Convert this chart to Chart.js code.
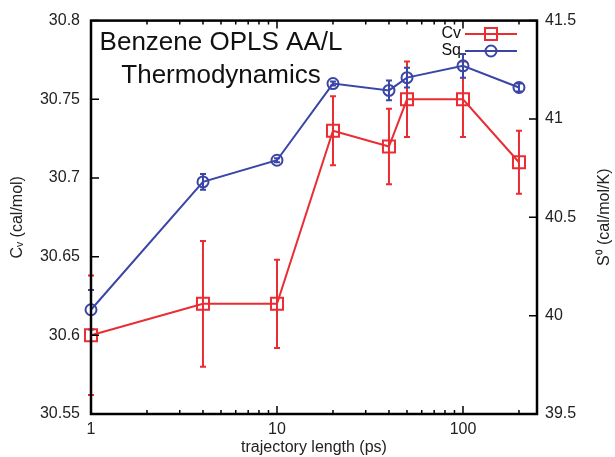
<!DOCTYPE html>
<html lang="en">
<head>
<meta charset="UTF-8">
<title>Benzene OPLS AA/L Thermodynamics</title>
<script src="https://cdn.jsdelivr.net/npm/chart.js"></script>
<style>
    body {
        margin: 0;
        background: #fff;
    }
    canvas {
        display: block;
    }
</style>
</head>
<body>
<canvas id="chart" width="615" height="457"></canvas>
<script>
// trajectory length (ps) and the two measured series
const lengths = [1, 4, 10, 20, 40, 50, 100, 200];
const cvValues = [30.6, 30.62, 30.62, 30.73, 30.72, 30.75, 30.75, 30.71];
const cvErrors = [0.038, 0.04, 0.028, 0.022, 0.024, 0.024, 0.024, 0.02];
const sqValues = [40.03, 40.68, 40.79, 41.18, 41.145, 41.21, 41.27, 41.16];
const sqErrors = [0.1, 0.04, 0.01, 0.01, 0.05, 0.05, 0.06, 0.02];

// axis ticks
const xTicks = [1, 10, 100];
const xMinorTicks = [2, 3, 4, 5, 6, 7, 8, 9, 20, 30, 40, 50, 60, 70, 80, 90, 200];
const cvTicks = [30.55, 30.6, 30.65, 30.7, 30.75, 30.8];
const sqTicks = [39.5, 40, 40.5, 41, 41.5];

const RED = '#ea2d33';
const BLUE = '#3a46a6';
const FONT = '"Liberation Sans", Arial, sans-serif';

// vertical error bars with small caps, drawn under the markers
const errorBars = {
    id: 'errorBars',
    beforeDatasetsDraw(chart) {
        const ctx = chart.ctx;
        const xs = chart.scales.x;
        chart.data.datasets.forEach(ds => {
            const ys = chart.scales[ds.yAxisID];
            ctx.save();
            ctx.strokeStyle = ds.borderColor;
            ctx.lineWidth = 2;
            ds.data.forEach((p, i) => {
                const x = xs.getPixelForValue(p.x);
                const top = ys.getPixelForValue(p.y + ds.errors[i]);
                const bot = ys.getPixelForValue(p.y - ds.errors[i]);
                ctx.beginPath();
                ctx.moveTo(x, top); ctx.lineTo(x, bot);
                ctx.moveTo(x - 3, top); ctx.lineTo(x + 3, top);
                ctx.moveTo(x - 3, bot); ctx.lineTo(x + 3, bot);
                ctx.stroke();
            });
            ctx.restore();
        });
    }
};

// gnuplot style frame, inward ticks, title, key and right axis label
const frame = {
    id: 'frame',
    afterDraw(chart) {
        const ctx = chart.ctx;
        const a = chart.chartArea;
        const xs = chart.scales.x, y1 = chart.scales.y, y2 = chart.scales.y2;
        ctx.save();
        ctx.strokeStyle = '#000';
        ctx.lineWidth = 1.5;
        ctx.beginPath();
        xTicks.forEach(v => {
            const x = xs.getPixelForValue(v);
            ctx.moveTo(x, a.bottom); ctx.lineTo(x, a.bottom - 8);
            ctx.moveTo(x, a.top); ctx.lineTo(x, a.top + 8);
        });
        xMinorTicks.forEach(v => {
            const x = xs.getPixelForValue(v);
            ctx.moveTo(x, a.bottom); ctx.lineTo(x, a.bottom - 4);
            ctx.moveTo(x, a.top); ctx.lineTo(x, a.top + 4);
        });
        cvTicks.forEach(v => {
            const y = y1.getPixelForValue(v);
            ctx.moveTo(a.left, y); ctx.lineTo(a.left + 8, y);
        });
        sqTicks.forEach(v => {
            const y = y2.getPixelForValue(v);
            ctx.moveTo(a.right, y); ctx.lineTo(a.right - 8, y);
        });
        ctx.stroke();

        ctx.lineWidth = 2.5;
        ctx.strokeRect(a.left, a.top, a.right - a.left, a.bottom - a.top);

        // title
        ctx.fillStyle = '#111';
        ctx.font = '26px ' + FONT;
        ctx.textAlign = 'center';
        ctx.textBaseline = 'alphabetic';
        ctx.fillText('Benzene OPLS AA/L', 221, 50);
        ctx.fillText('Thermodynamics', 221, 83);

        // right axis label, reading bottom to top
        ctx.save();
        ctx.translate(605, (a.top + a.bottom) / 2);
        ctx.rotate(-Math.PI / 2);
        ctx.font = '16px ' + FONT;
        ctx.fillStyle = '#222';
        ctx.textBaseline = 'middle';
        ctx.fillText('S⁰ (cal/mol/K)', 0, 0);
        ctx.restore();

        // key
        ctx.font = '16px ' + FONT;
        ctx.textAlign = 'right';
        ctx.textBaseline = 'middle';
        const keys = [
            { label: 'Cv', color: RED, y: 34, style: 'rect' },
            { label: 'Sq', color: BLUE, y: 51, style: 'circle' }
        ];
        keys.forEach(k => {
            ctx.fillStyle = '#111';
            ctx.fillText(k.label, 461, k.y);
            ctx.strokeStyle = k.color;
            ctx.lineWidth = 2;
            ctx.beginPath();
            ctx.moveTo(465, k.y); ctx.lineTo(517, k.y);
            ctx.stroke();
            ctx.beginPath();
            if (k.style === 'rect') {
                ctx.rect(485, k.y - 6, 12, 12);
            } else {
                ctx.arc(491, k.y, 5.5, 0, Math.PI * 2);
            }
            ctx.stroke();
        });
        ctx.restore();
    }
};

const tickFont = { family: FONT, size: 16 };
const noGrid = { display: false, drawTicks: false };

new Chart(document.getElementById('chart'), {
    type: 'line',
    data: {
        datasets: [
            {
                label: 'Cv',
                data: lengths.map((x, i) => ({ x: x, y: cvValues[i] })),
                errors: cvErrors,
                yAxisID: 'y',
                borderColor: RED,
                borderWidth: 2,
                pointStyle: 'rect',
                pointRadius: 8.5,
                pointBorderWidth: 2,
                pointBorderColor: RED,
                pointBackgroundColor: 'rgba(0,0,0,0)',
                clip: false
            },
            {
                label: 'Sq',
                data: lengths.map((x, i) => ({ x: x, y: sqValues[i] })),
                errors: sqErrors,
                yAxisID: 'y2',
                borderColor: BLUE,
                borderWidth: 2,
                pointStyle: 'circle',
                pointRadius: 5.5,
                pointBorderWidth: 2,
                pointBorderColor: BLUE,
                pointBackgroundColor: 'rgba(0,0,0,0)',
                clip: false
            }
        ]
    },
    options: {
        responsive: false,
        animation: false,
        devicePixelRatio: 1,
        layout: { padding: { top: 20, left: 0, right: 0, bottom: 0 } },
        plugins: {
            legend: { display: false },
            tooltip: { enabled: false }
        },
        scales: {
            x: {
                type: 'logarithmic',
                position: 'bottom',
                min: 1,
                max: 250,
                grid: noGrid,
                border: { display: false },
                afterBuildTicks: s => { s.ticks = xTicks.map(v => ({ value: v })); },
                afterFit: s => { s.height = 43; },
                ticks: {
                    font: tickFont, color: '#222', padding: 6,
                    maxRotation: 0, autoSkip: false,
                    callback: v => String(v)
                },
                title: {
                    display: true, text: 'trajectory length (ps)',
                    font: tickFont, color: '#222', padding: { top: 0, bottom: 0 }
                }
            },
            y: {
                type: 'linear',
                position: 'left',
                min: 30.55,
                max: 30.8,
                grid: noGrid,
                border: { display: false },
                afterBuildTicks: s => { s.ticks = cvTicks.map(v => ({ value: v })); },
                afterFit: s => { s.width = 91; },
                ticks: { font: tickFont, color: '#222', padding: 11, callback: v => String(v) },
                title: {
                    display: true, text: 'Cᵥ (cal/mol)',
                    font: tickFont, color: '#222', padding: { top: 8, bottom: 0 }
                }
            },
            y2: {
                type: 'linear',
                position: 'right',
                min: 39.5,
                max: 41.5,
                grid: noGrid,
                border: { display: false },
                afterBuildTicks: s => { s.ticks = sqTicks.map(v => ({ value: v })); },
                afterFit: s => { s.width = 78; },
                ticks: { font: tickFont, color: '#222', padding: 8, callback: v => String(v) }
            }
        }
    },
    plugins: [errorBars, frame]
});
</script>
</body>
</html>
